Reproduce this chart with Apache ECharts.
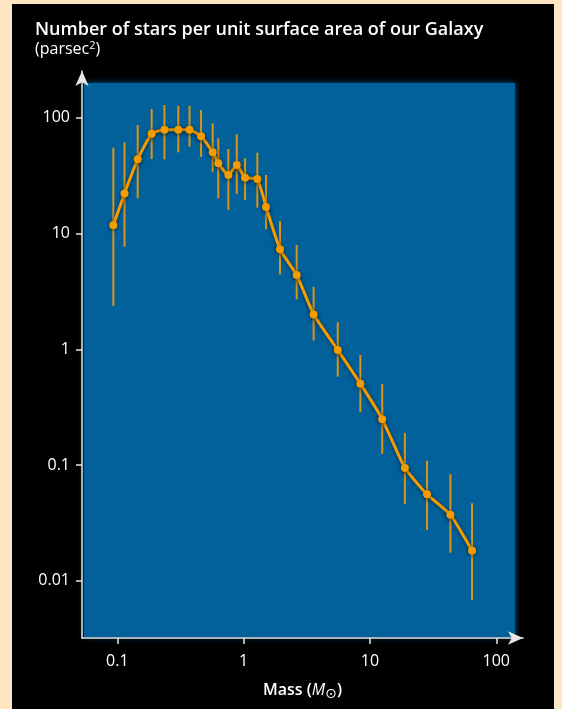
<!DOCTYPE html>
<html>
<head>
<meta charset="utf-8">
<script src="https://cdn.jsdelivr.net/npm/echarts@6/dist/echarts.min.js"></script>
<style>
  html, body { margin: 0; padding: 0; background: #fee6c3; }
  #chart { width: 562px; height: 709px; }
</style>
</head>
<body>
<div id="chart"></div>
<script>
// Stellar mass (solar masses) and number of stars per unit surface area (parsec^-2)
const mass    = [0.093, 0.114, 0.145, 0.187, 0.236, 0.304, 0.373, 0.46, 0.569, 0.63, 0.757, 0.882, 1.026, 1.283, 1.504, 1.94, 2.63, 3.58, 5.56, 8.39, 12.5, 18.9, 28.3, 43.3, 64.3];
const density = [11.8, 22.2, 43.7, 72.8, 78.8, 78.8, 78.8, 69.1, 50.2, 40.4, 32.0, 39.0, 30.3, 29.6, 16.9, 7.3, 4.38, 2.0, 0.986, 0.505, 0.249, 0.0944, 0.0559, 0.0373, 0.0182];
const errLow  = [2.37, 7.69, 20.1, 44.0, 43.7, 50.2, 56.2, 46.0, 34.2, 20.1, 15.96, 21.9, 19.5, 16.7, 10.9, 4.44, 2.70, 1.19, 0.58, 0.287, 0.125, 0.0461, 0.0275, 0.0175, 0.00684];
const errHigh = [55.1, 61.3, 86.5, 118.9, 128.8, 126.9, 126.9, 116.5, 89.5, 66.4, 53.7, 71.9, 44.6, 49.9, 32.0, 12.8, 7.96, 3.47, 1.71, 0.893, 0.502, 0.19, 0.109, 0.0833, 0.0468];
const xTicks = [0.1, 1, 10, 100];
const yTicks = [0.01, 0.1, 1, 10, 100];

const orange = '#f59b00';
const axisColor = '#e6e6e6';
const font = '"Open Sans", "Noto Sans", sans-serif';

const points = mass.map((m, i) => [m, density[i]]);
const bars = mass.map((m, i) => [m, errLow[i], errHigh[i]]);

const chart = echarts.init(document.getElementById('chart'), null, { renderer: 'canvas' });

const fmt = v => {
  const n = Math.round(Math.log10(v));
  return n >= 0 ? String(Math.pow(10, n)) : Math.pow(10, n).toFixed(-n);
};

chart.setOption({
  backgroundColor: '#fee6c3',
  animation: false,
  title: {
    left: 35, top: 19, padding: 0,
    text: '{b|Number of stars per unit surface area of our Galaxy}\n{n|(parsec}{s|2}{n|)}',
    textStyle: {
      rich: {
        b: { color: '#fff', fontFamily: font, fontSize: 18, fontWeight: 600, lineHeight: 21 },
        n: { color: '#fff', fontFamily: font, fontSize: 16, fontWeight: 'normal', lineHeight: 19 },
        s: { color: '#fff', fontFamily: font, fontSize: 11, fontWeight: 'normal', lineHeight: 9, verticalAlign: 'top' }
      }
    }
  },
  graphic: [
    { type: 'rect', z: -20, silent: true, shape: { x: 12, y: 4, width: 542, height: 705 }, style: { fill: '#000' } },
    { type: 'rect', z: -10, silent: true, shape: { x: 84, y: 83, width: 431, height: 554 },
      style: { fill: '#02619a', shadowBlur: 6, shadowColor: 'rgba(2,97,154,0.9)' } }
  ],
  grid: { left: 82, right: 39, top: 71, bottom: 71, containLabel: false },
  xAxis: {
    type: 'log', logBase: 10, min: 0.05254, max: 162.7,
    axisLine: { show: true, lineStyle: { color: axisColor, width: 1.5 }, symbol: ['none', 'arrow'], symbolSize: [10, 15] },
    axisTick: { show: true, length: 6, lineStyle: { color: axisColor, width: 1.5 }, customValues: xTicks },
    axisLabel: { color: '#fff', fontFamily: font, fontSize: 16, margin: 15, customValues: xTicks, formatter: fmt },
    splitLine: { show: false },
    minorTick: { show: false },
    name: '{m|Mass (}{i|M}{sub|⊙}{m|)}',
    nameLocation: 'middle', nameGap: 41,
    nameTextStyle: {
      rich: {
        m: { color: '#fff', fontFamily: font, fontSize: 16, fontWeight: 600, lineHeight: 22 },
        i: { color: '#fff', fontFamily: font, fontSize: 16, fontStyle: 'italic', lineHeight: 22 },
        sub: { color: '#fff', fontFamily: '"DejaVu Sans", sans-serif', fontSize: 14, lineHeight: 10, verticalAlign: 'bottom' }
      }
    }
  },
  yAxis: {
    type: 'log', logBase: 10, min: 0.003212, max: 253.2,
    axisLine: { show: true, lineStyle: { color: axisColor, width: 1.5 }, symbol: ['none', 'arrow'], symbolSize: [10, 15] },
    axisTick: { show: true, length: 6, lineStyle: { color: axisColor, width: 1.5 }, customValues: yTicks },
    axisLabel: { color: '#fff', fontFamily: font, fontSize: 16, margin: 12, customValues: yTicks, formatter: fmt },
    splitLine: { show: false },
    minorTick: { show: false }
  },
  series: [
    {
      type: 'custom',
      name: 'range',
      z: 2,
      data: bars,
      encode: { x: 0, y: [1, 2] },
      renderItem: (params, api) => {
        const lo = api.coord([api.value(0), api.value(1)]);
        const hi = api.coord([api.value(0), api.value(2)]);
        return {
          type: 'line',
          shape: { x1: lo[0], y1: lo[1], x2: hi[0], y2: hi[1] },
          style: { stroke: 'rgba(240,152,10,0.92)', lineWidth: 2 }
        };
      }
    },
    {
      type: 'line',
      z: 3,
      data: points,
      smooth: 0.15,
      symbol: 'circle',
      symbolSize: 8,
      itemStyle: { color: orange, shadowColor: 'rgba(0,0,0,0.55)', shadowBlur: 4, shadowOffsetY: 1 },
      lineStyle: { color: orange, width: 3, shadowColor: 'rgba(0,0,0,0.55)', shadowBlur: 4, shadowOffsetY: 1 }
    }
  ]
});
</script>
</body>
</html>
